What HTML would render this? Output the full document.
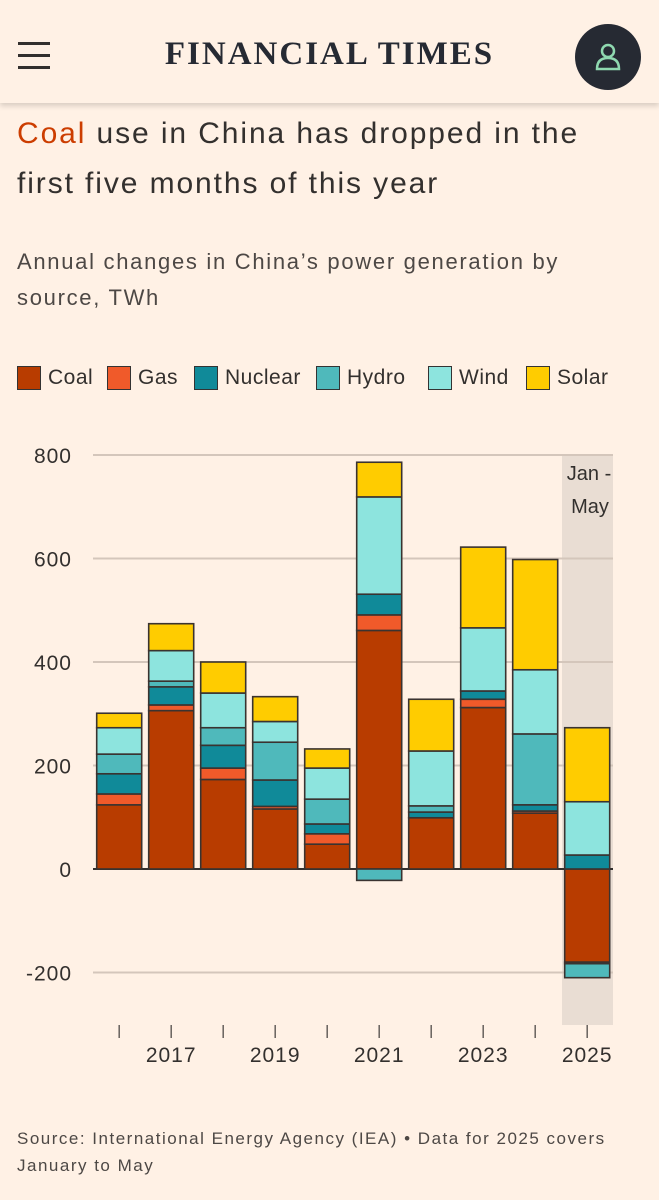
<!DOCTYPE html>
<html><head><meta charset="utf-8"><style>
body{margin:0;width:659px;height:1200px;background:#fff1e5;font-family:"Liberation Sans",sans-serif;color:#33302e;overflow:hidden;position:relative}
.hdr{position:absolute;left:0;top:0;width:659px;height:103px;background:#fff1e5;box-shadow:0 3px 5px rgba(0,0,0,0.15)}
.t{position:absolute;left:17px;font-size:30px;color:#33302e;line-height:50px;letter-spacing:1.9px;white-space:nowrap}
.sub{position:absolute;left:17px;font-size:22px;color:#4d4845;line-height:36px;letter-spacing:1.7px;white-space:nowrap}
.leg{position:absolute;top:366px;display:flex;align-items:center;font-size:21px;color:#33302e;letter-spacing:0.5px}
.sw{width:24px;height:24px;border:1px solid #333;margin-right:7px;box-sizing:border-box}
</style></head><body>
<div class="hdr">
 <div style="position:absolute;left:18px;top:42px;width:32px">
  <div style="height:3px;background:#33302e;margin-bottom:9px"></div><div style="height:3px;background:#33302e;margin-bottom:9px"></div><div style="height:3px;background:#33302e"></div></div>
 <div style="position:absolute;left:0;width:659px;top:36px;text-align:center;font-family:'Liberation Serif',serif;font-weight:bold;font-size:33px;letter-spacing:2px;color:#262a33">FINANCIAL TIMES</div>
 <div style="position:absolute;left:575px;top:24px;width:66px;height:66px;border-radius:50%;background:#262a33">
  <svg width="66" height="66"><circle cx="33" cy="27" r="6" fill="none" stroke="#8fd9b0" stroke-width="2.5"/><path d="M22 45 Q22 34 33 34 Q44 34 44 45 Z" fill="none" stroke="#8fd9b0" stroke-width="2.5"/></svg></div>
</div>
<div class="t" style="top:109px"><span style="color:#cc3d00">Coal</span> use in China has dropped in the<br>first five months of this year</div>
<div class="sub" style="top:244px">Annual changes in China’s power generation by<br>source, TWh</div>
<div id="legend"></div>
<svg id="chart" width="659" height="1100" style="position:absolute;left:0;top:0"></svg>
<div style="position:absolute;left:17px;top:1125px;font-size:17px;line-height:27px;color:#4d4845;letter-spacing:1.5px;white-space:nowrap">Source: International Energy Agency (IEA) • Data for 2025 covers<br>January to May</div>
<script>
const years=[2016,2017,2018,2019,2020,2021,2022,2023,2024,2025];
const series=["Coal","Gas","Nuclear","Hydro","Wind","Solar"];
const colors=["#b83c00","#f05a2a","#108a99","#4fb9bb","#8de4de","#ffcc00"];
const coal=[124,306,173,116,48,461,99,312,108,-180];
const gas=[21,11,22,5,20,30,0,16,4,-3];
const nuclear=[39,35,44,51,19,40,11,16,12,27];
const hydro=[38,11,34,73,48,-22,12,0,137,-27];
const wind=[51,59,67,40,60,188,106,122,124,103];
const solar=[28,52,60,48,37,67,100,156,213,143];
const yTicks=[800,600,400,200,0,-200];
const xLabels=["2017","2019","2021","2023","2025"];
const data=[coal,gas,nuclear,hydro,wind,solar];
const NS="http://www.w3.org/2000/svg";
const svg=document.getElementById('chart');
const y0=869,k=414/800;
const Y=v=>y0-v*k;
const X=i=>96.7+52*i;
const bw=45;
function mk(t,a){const e=document.createElementNS(NS,t);for(const q in a)e.setAttribute(q,a[q]);svg.appendChild(e);return e;}
let sh=mk('rect',{x:562,y:455,width:51,height:570,fill:'#e9ddd3'});


yTicks.forEach(v=>{
 let g=mk('line',{x1:93,x2:613,y1:Y(v),y2:Y(v),stroke:v===0?'#33302e':'#d4c6bb','stroke-width':2});
 
 
 let t=mk('text',{x:72,y:Y(v)+8,'text-anchor':'end','font-size':21,fill:'#33302e','letter-spacing':1});
 t.textContent=v;
 
 
});
let jt=mk('text',{x:589,y:480,'text-anchor':'middle','font-size':20,fill:'#33302e'});jt.textContent='Jan -';


let jt2=mk('text',{x:590,y:513,'text-anchor':'middle','font-size':20,fill:'#33302e'});jt2.textContent='May';


years.forEach((yr,i)=>{
 let pos=0,neg=0;
 data.forEach((s,j)=>{
  const v=s[i];if(!v)return;
  let a,b;
  if(v>0){a=pos;b=pos+v;pos=b;}else{a=neg;b=neg+v;neg=b;}
  const top=Y(Math.max(a,b)),bot=Y(Math.min(a,b));
  let r=mk('rect',{x:X(i),y:top,width:bw,height:bot-top,fill:colors[j],stroke:'#3a3330','stroke-width':1.6});
  
  
 });
 let tk=mk('line',{x1:X(i)+bw/2,x2:X(i)+bw/2,y1:1025,y2:1038,stroke:'#66605c','stroke-width':1.5});
 
 
});
xLabels.forEach(l=>{
 const i=years.indexOf(+l);
 let t=mk('text',{x:X(i)+bw/2,y:1062,'text-anchor':'middle','font-size':21,fill:'#33302e','letter-spacing':1});
 t.textContent=l;
 
 
});
const legX=[17,107,194,316,428,526];
const leg=document.getElementById('legend');
series.forEach((s,j)=>{
 const d=document.createElement('div');d.className='leg';d.style.left=legX[j]+'px';
 
 
 d.innerHTML='<div class="sw" style="background:'+colors[j]+'"></div>'+s;
 leg.appendChild(d);
});
</script>
</body></html>
